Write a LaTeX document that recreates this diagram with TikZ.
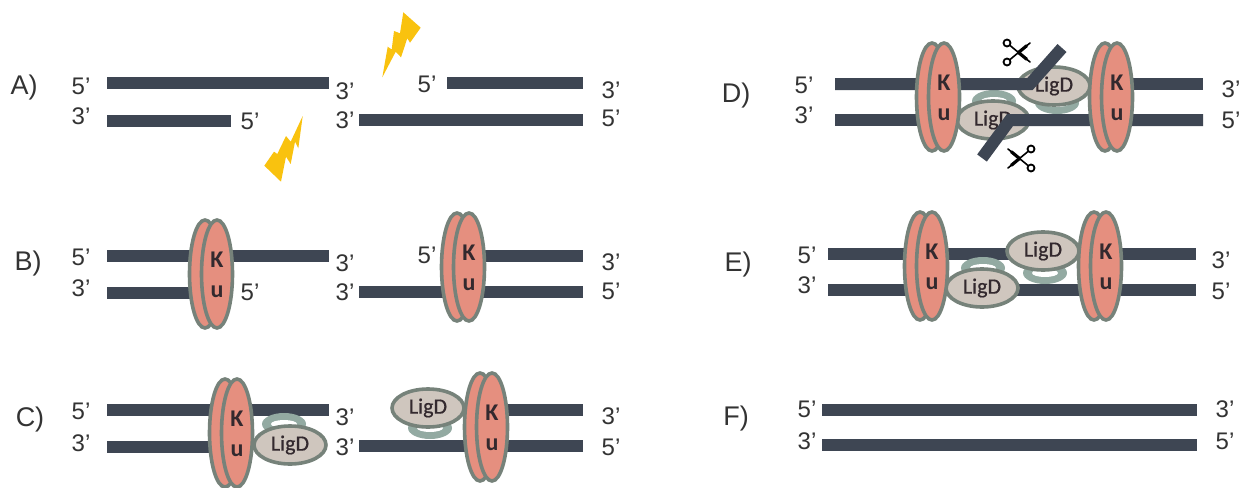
\documentclass[tikz,border=0pt]{standalone}
\usepackage{fontspec}
\setmainfont{Liberation Sans}
\newfontfamily\calfont[FakeBold=0.6]{Carlito}
\newfontfamily\calbold{Carlito Bold}
\usetikzlibrary{shapes.geometric,calc}
\definecolor{strandc}{HTML}{3E4653}
\definecolor{kuc}{HTML}{E58F7F}
\definecolor{edgec}{HTML}{76827A}
\definecolor{ligc}{HTML}{CFC6BE}
\definecolor{clampc}{HTML}{93AAA2}
\definecolor{boltc}{HTML}{F9C20F}
\definecolor{inkc}{HTML}{33292E}
\definecolor{txtc}{HTML}{333333}
\tikzset{
  strand/.style={line width=12pt,strandc,line cap=butt,miter limit=10},
  pr/.style={font=\fontsize{24}{24}\selectfont,text=txtc,inner sep=0pt},
  tag/.style={font=\fontsize{27}{27}\selectfont,text=txtc,inner sep=0pt},
  kuell/.style={ellipse,draw=edgec,fill=kuc,line width=3.6pt,inner sep=0pt,outer sep=0pt,minimum width=31pt},
  kutxt/.style={font=\calbold\fontsize{24}{24}\selectfont,text=inkc,inner sep=0pt},
  ligd/.style={ellipse,draw=edgec,fill=ligc,line width=3.6pt,inner sep=0pt,outer sep=0pt,minimum width=72pt,minimum height=38pt,font=\calfont\fontsize{22}{22}\selectfont,text=inkc},
  clampo/.style={ellipse,fill=clampc,draw=none,inner sep=0pt,outer sep=0pt,minimum width=44pt,minimum height=22pt},
  clampi/.style={ellipse,fill=white,draw=none,inner sep=0pt,outer sep=0pt,minimum width=26pt,minimum height=8pt},
  bolt/.style={fill=boltc,draw=none},
  blade/.style={black,line width=1.6pt,line cap=round},
  bladew/.style={black,line width=3.2pt,line cap=round},
  ring/.style={circle,draw=black,line width=1.8pt,fill=white,minimum size=7pt,inner sep=0pt}
}
% name, x of front ellipse, y centre, full height
\newcommand{\kupair}[4]{%
  \node[kuell,minimum height=#4pt] (#1b) at (#2-12,#3) {};
  \node[kuell,minimum height=#4pt] (#1f) at (#2,#3) {};
  \node[kutxt] (#1k) at (#2,#3-14) {K};
  \node[kutxt] (#1u) at (#2,#3+18) {u};
}
\newcommand{\clampp}[3]{%
  \node[clampo] (#1o) at (#2,#3) {};
  \node[clampi] (#1i) at (#2,#3) {};
}
% name, ring x, ring1 y, ring2 y, tip x
\newcommand{\scissor}[5]{%
  \coordinate (#1t) at (#5,#3);
  \coordinate (#1s) at (#5,#4);
  \node[ring] (#1a) at (#2,#3) {};
  \node[ring] (#1c) at (#2,#4) {};
  \draw[blade] (#1a) -- (#1s);
  \draw[blade] (#1c) -- (#1t);
  \draw[bladew] ($(#1a)!0.5!(#1s)$) -- ($(#1a)!0.85!(#1s)$);
  \draw[bladew] ($(#1c)!0.5!(#1t)$) -- ($(#1c)!0.85!(#1t)$);
}
\begin{document}
\begin{tikzpicture}[x=1pt,y=-1pt]
\useasboundingbox (0,0) rectangle (1244,487);
% ---------- A
\draw[strand] (107,83) -- (329,83);
\draw[strand] (107,121) -- (231,121);
\draw[strand] (447,83) -- (583,83);
\draw[strand] (359,120) -- (583,120);
\fill[bolt] (382.3,77.3) -- (387.7,46.7) -- (391.7,49.5) -- (394,31) -- (400,33.3) -- (403.3,12.3) -- (420.7,27.7) -- (410,42.7) -- (407.3,38.3) -- (401,57.3) -- (395.7,51.7) -- cycle;
\fill[bolt] (302.7,116) -- (290.7,141.7) -- (286,136) -- (277.3,154) -- (274,151.7) -- (264.3,165.7) -- (281,181.7) -- (286,156.7) -- (290.7,164) -- (295,141.7) -- (298.3,148.3) -- cycle;
% ---------- B
\draw[strand] (107,256) -- (329,256);
\draw[strand] (107,293) -- (195,293);
\draw[strand] (445,256) -- (583,256);
\draw[strand] (359,292) -- (583,292);
\kupair{kba}{217}{274}{108}
\kupair{kbb}{469}{267}{108}
% ---------- C
\draw[strand] (107,410) -- (329,410);
\draw[strand] (107,447) -- (250,447);
\draw[strand] (470,410) -- (583,410);
\draw[strand] (359,446) -- (583,446);
\clampp{cca}{284}{424}
\clampp{ccb}{430}{428}
\node[ligd] (lca) at (290,445) {LigD};
\node[ligd] (lcb) at (428,408) {LigD};
\kupair{kca}{237}{433}{108}
\kupair{kcb}{492}{427}{108}
% ---------- D
\draw[strand] (835,120) -- (965,120);
\draw[strand] (1085,84) -- (1203,84);
\clampp{cda}{994}{101}
\clampp{cdb}{1057}{103}
\node[ligd] (lda) at (993,120) {LigD};
\node[ligd] (ldb) at (1054,86) {LigD};
\draw[strand] (835,84) -- (1030,84) -- (1062,48);
\draw[strand] (1203,120) -- (1010,120) -- (982,158);
\kupair{kda}{944}{97}{108}
\kupair{kdb}{1117}{97}{108}
\scissor{sa}{1007}{43}{62}{1030}
\scissor{sb}{1031}{149}{168}{1008}
% ---------- E
\draw[strand] (828,254) -- (1196,254);
\draw[strand] (828,290) -- (1196,290);
\clampp{cea}{983}{268}
\clampp{ceb}{1045}{273}
\node[ligd] (lea) at (982,288) {LigD};
\node[ligd] (leb) at (1043,251) {LigD};
\kupair{kea}{932}{266}{108}
\kupair{keb}{1106}{266}{108}
% ---------- F
\draw[strand] (822,410) -- (1197,410);
\draw[strand] (822,445) -- (1197,445);
% ---------- labels
\node[tag] (ta) at (24,88) {A)};
\node[tag] (tb) at (28,264) {B)};
\node[tag] (tc) at (30,420) {C)};
\node[tag] (td) at (736,96) {D)};
\node[tag] (te) at (738,265) {E)};
\node[tag] (tf) at (736,419) {F)};
\node[pr] (a1) at (81,86) {5’};
\node[pr] (a2) at (81,116) {3’};
\node[pr] (a3) at (345,91) {3’};
\node[pr] (a4) at (345,120) {3’};
\node[pr] (a5) at (427,84) {5’};
\node[pr] (a6) at (611,90) {3’};
\node[pr] (a7) at (611,118) {5’};
\node[pr] (a8) at (250,121) {5’};
\node[pr] (b1) at (81,257) {5’};
\node[pr] (b2) at (81,288) {3’};
\node[pr] (b3) at (250,292) {5’};
\node[pr] (b4) at (345,263) {3’};
\node[pr] (b5) at (345,292) {3’};
\node[pr] (b6) at (427,255) {5’};
\node[pr] (b7) at (611,262) {3’};
\node[pr] (b8) at (611,291) {5’};
\node[pr] (c1) at (81,411) {5’};
\node[pr] (c2) at (81,443) {3’};
\node[pr] (c3) at (345,417) {3’};
\node[pr] (c4) at (345,447) {3’};
\node[pr] (c5) at (611,416) {3’};
\node[pr] (c6) at (611,447) {5’};
\node[pr] (d1) at (804,85) {5’};
\node[pr] (d2) at (804,115) {3’};
\node[pr] (d3) at (1231,89) {3’};
\node[pr] (d4) at (1231,120) {5’};
\node[pr] (e1) at (807,255) {5’};
\node[pr] (e2) at (807,285) {3’};
\node[pr] (e3) at (1221,260) {3’};
\node[pr] (e4) at (1221,291) {5’};
\node[pr] (f1) at (807,409) {5’};
\node[pr] (f2) at (807,441) {3’};
\node[pr] (f3) at (1225,409) {3’};
\node[pr] (f4) at (1225,441) {5’};
\end{tikzpicture}
\end{document}
